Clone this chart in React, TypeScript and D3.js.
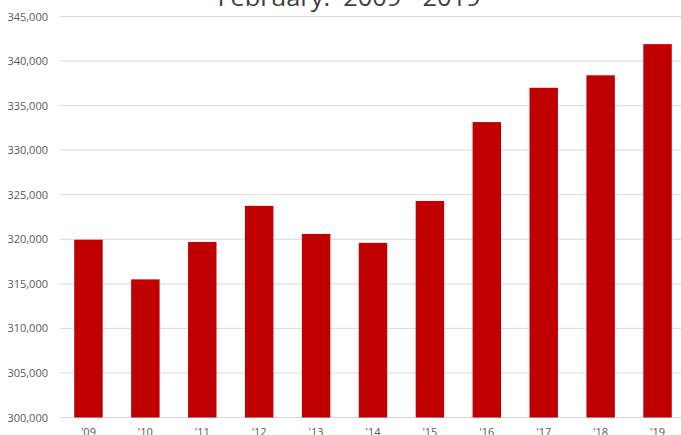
import React from "react";
import * as d3 from "d3";

const categories = ["'09", "'10", "'11", "'12", "'13", "'14", "'15", "'16", "'17", "'18", "'19"];
const values = [319950, 315500, 319700, 323750, 320600, 319600, 324300, 333150, 337000, 338400, 341900];
const yTicks = [300000, 305000, 310000, 315000, 320000, 325000, 330000, 335000, 340000, 345000];
const title = "February:\u00a0 2009 - 2019";

export default function App() {
  const W = 681, H = 435;
  const x = d3.scaleBand<string>().domain(categories).range([60, 686]).paddingInner(0.5).paddingOuter(0.25);
  const y = d3.scaleLinear().domain([300000, 345000]).range([417.5, 16.5]);
  const fmt = d3.format(",");
  return (
    <svg width={W} height={H} style={{ position: "fixed", left: 0, top: 0, background: "#fff" }}>
      <text x={349} y={5.5} textAnchor="middle" fontFamily="Open Sans" fontSize={24} fill="#404040" textLength={263} lengthAdjust="spacingAndGlyphs">{title}</text>
      {yTicks.map((t) => (
        <g key={t}>
          <line x1={60} x2={W} y1={y(t)} y2={y(t)} stroke="#d9d9d9" strokeWidth={1} />
          <text x={48} y={y(t) + 4} textAnchor="end" fontFamily="Open Sans" fontSize={11} fill="#595959">{fmt(t)}</text>
        </g>
      ))}
      {categories.map((c, i) => (
        <rect key={c} x={x(c)} y={y(values[i])} width={x.bandwidth()} height={y(300000) - y(values[i])} fill="#c00000" />
      ))}
      {categories.map((c) => (
        <text key={c} x={(x(c) as number) + x.bandwidth() / 2} y={436} textAnchor="middle" fontFamily="Open Sans" fontSize={11} fill="#595959">{c}</text>
      ))}
    </svg>
  );
}
